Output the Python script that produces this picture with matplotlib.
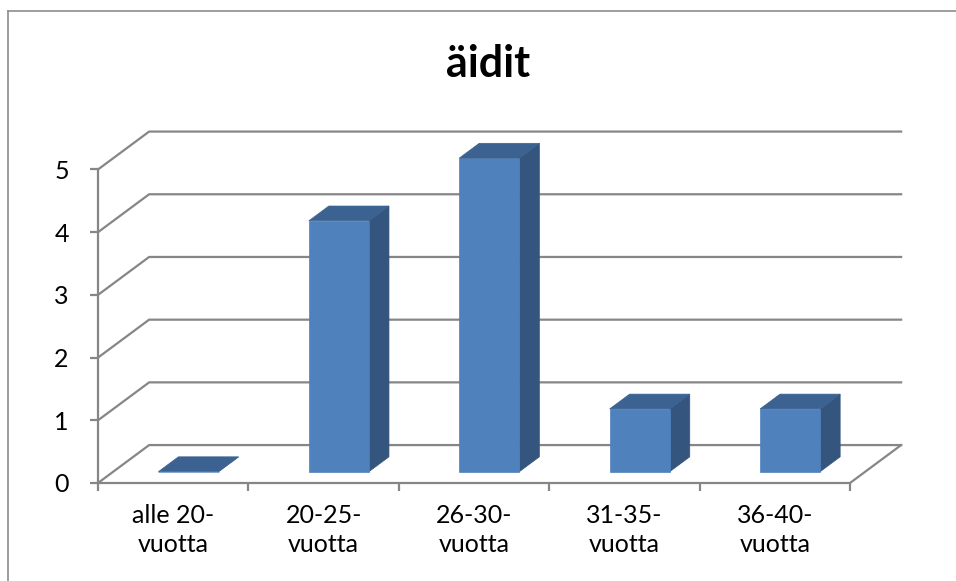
import matplotlib
matplotlib.use("Agg")
import matplotlib.pyplot as plt
from matplotlib.patches import Polygon
from matplotlib.lines import Line2D

plt.rcParams['font.family'] = ['Lato', 'DejaVu Sans']

# Data
categories = ["alle 20-\nvuotta", "20-25-\nvuotta", "26-30-\nvuotta", "31-35-\nvuotta", "36-40-\nvuotta"]
values = [0, 4, 5, 1, 1]
y_ticks = [0, 1, 2, 3, 4, 5]
title = "äidit"

# Styling
FRONT = "#4F81BD"
TOP = "#3B6291"
SIDE = "#34557D"
GRID = "#868686"

# Oblique depth offset in data units (full depth of the floor)
DX = 0.34
DY = 0.605
BAR_W = 0.40
D0, D1 = 0.30, 0.69   # depth range occupied by the columns

W, H = 956, 581
fig = plt.figure(figsize=(W / 100, H / 100), dpi=100)

# Chart frame (left and top edges)
fig.add_artist(Line2D([8 / W, 8 / W], [0, 1 - 11 / H], color="#8c8c8c", lw=1.2,
                      transform=fig.transFigure))
fig.add_artist(Line2D([8 / W, 1], [1 - 11 / H, 1 - 11 / H], color="#8c8c8c", lw=1.2,
                      transform=fig.transFigure))

left, right = 98 / W, 850 / W
bottom, top = (H - 483) / H, (H - 169.5) / H
ax = fig.add_axes([left, bottom, right - left, top - bottom])
n = len(categories)
ax.set_xlim(-0.5, n - 0.5)
ax.set_ylim(0, 5)
ax.patch.set_visible(False)


def proj(x, y, d):
    return (x + d * DX, y + d * DY)


# Back wall gridlines with their diagonal connectors on the left wall
for v in y_ticks:
    x0, y0 = proj(-0.5, v, 1)
    x1, y1 = proj(n - 0.5, v, 1)
    ax.plot([-0.5, x0, x1], [v, y0, y1], color=GRID, lw=1.6, clip_on=False,
            solid_joinstyle="miter", zorder=1)

# Floor right edge
fx, fy = proj(n - 0.5, 0, 1)
ax.plot([n - 0.5, fx], [0, fy], color=GRID, lw=1.6, clip_on=False, zorder=1)

# Columns
for i, v in enumerate(values):
    xl = i - BAR_W / 2
    xr = i + BAR_W / 2
    front = [proj(xl, 0, D0), proj(xr, 0, D0), proj(xr, v, D0), proj(xl, v, D0)]
    top_face = [proj(xl, v, D0), proj(xr, v, D0), proj(xr, v, D1), proj(xl, v, D1)]
    side = [proj(xr, 0, D0), proj(xr, 0, D1), proj(xr, v, D1), proj(xr, v, D0)]
    for poly, c in ((side, SIDE), (front, FRONT), (top_face, TOP)):
        ax.add_patch(Polygon(poly, closed=True, facecolor=c, edgecolor=c, lw=0.5,
                             clip_on=False, zorder=3))

# Front axes
for s in ("top", "right"):
    ax.spines[s].set_visible(False)
for s in ("left", "bottom"):
    ax.spines[s].set_color(GRID)
    ax.spines[s].set_linewidth(1.6)
    ax.spines[s].set_zorder(2)

ax.set_yticks(y_ticks)
ax.set_yticklabels([str(t) for t in y_ticks])
ax.tick_params(axis="y", length=6, width=1.6, color=GRID, labelsize=18, pad=15)

ax.set_xticks([i - 0.5 for i in range(n + 1)])
ax.set_xticklabels([])
ax.set_xticks(list(range(n)), minor=True)
ax.set_xticklabels(categories, minor=True, fontsize=18, linespacing=1.3)
ax.tick_params(axis="x", which="major", length=6, width=1.6, color=GRID)
ax.tick_params(axis="x", which="minor", length=0, pad=15)

fig.text(488 / W, 1 - 64 / H, title, ha="center", va="center", fontsize=31,
         fontweight="bold")

fig.savefig("out.png", dpi=100)
